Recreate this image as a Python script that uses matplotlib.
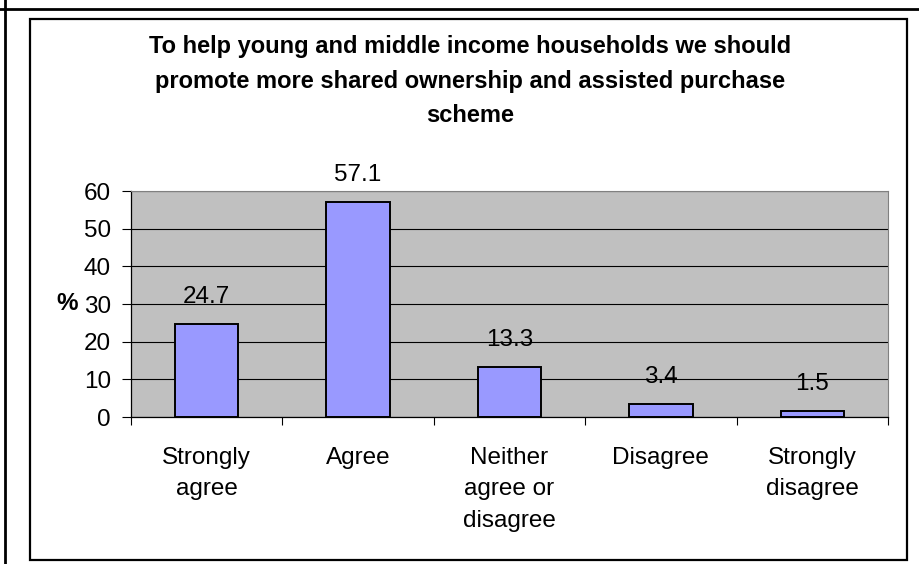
import matplotlib.pyplot as plt
from matplotlib.patches import Rectangle
from matplotlib.lines import Line2D

plt.rcParams['font.family'] = ['Liberation Sans', 'DejaVu Sans']

categories = ['Strongly\nagree', 'Agree', 'Neither\nagree or\ndisagree', 'Disagree', 'Strongly\ndisagree']
values = [24.7, 57.1, 13.3, 3.4, 1.5]
title_lines = ['To help young and middle income households we should',
               'promote more shared ownership and assisted purchase',
               'scheme']

W, H = 920, 564
fig = plt.figure(figsize=(W / 100, H / 100), dpi=100)

def px(x, y):
    # pixel position (from top-left) to figure fraction
    return x / W, 1 - y / H

# page frame: outer lines on top/left, inner chart box
fig.add_artist(Line2D([0, 1], [1 - 9 / H] * 2, color='black', lw=2, transform=fig.transFigure))
fig.add_artist(Line2D([5 / W] * 2, [0, 1], color='black', lw=2, transform=fig.transFigure))
x0, y1 = px(30, 19)
x1, y0 = px(907, 560)
fig.add_artist(Rectangle((x0, y0), x1 - x0, y1 - y0, fill=False, ec='black', lw=1.6,
                         transform=fig.transFigure))

l, t = px(131, 191)
r, b = px(888, 417)
ax = fig.add_axes([l, b, r - l, t - b])
ax.set_facecolor('#C0C0C0')

fs = 17.5
xs = list(range(len(values)))
bars = ax.bar(xs, values, width=0.42, color='#9999FF', edgecolor='black', lw=1.4, zorder=3)
for x, v in zip(xs, values):
    ax.annotate(f'{v}', (x, v), xytext=(0, 19.5), textcoords='offset points',
                ha='center', va='center', fontsize=fs)

ax.set_xlim(-0.5, len(values) - 0.5)
ax.set_ylim(0, 60)
ax.set_yticks(range(0, 61, 10))
ax.grid(axis='y', color='black', lw=0.8, zorder=1)
ax.tick_params(axis='y', direction='out', length=6.5, width=0.8, labelsize=fs, pad=8)

ax.set_xticks([i + 0.5 for i in range(-1, len(values))])
ax.set_xticklabels([])
ax.tick_params(axis='x', which='major', direction='out', length=6, width=0.8)
ax.set_xticks(xs, minor=True)
ax.set_xticklabels(categories, minor=True, fontsize=fs, linespacing=1.55)
ax.tick_params(axis='x', which='minor', length=0, pad=21.5)

ax.spines['left'].set_linewidth(0.9)
ax.spines['bottom'].set_linewidth(0.9)
ax.spines['right'].set_color('#808080')
ax.spines['top'].set_color('#808080')

ax.text(*px(67, 303), '%', transform=fig.transFigure, fontsize=fs, fontweight='bold',
        ha='center', va='center')

for y, line in zip([47, 82, 115], title_lines):
    fig.text(*px(470, y), line, fontsize=17, fontweight='bold', ha='center', va='center')

fig.savefig('out.png', dpi=100)
